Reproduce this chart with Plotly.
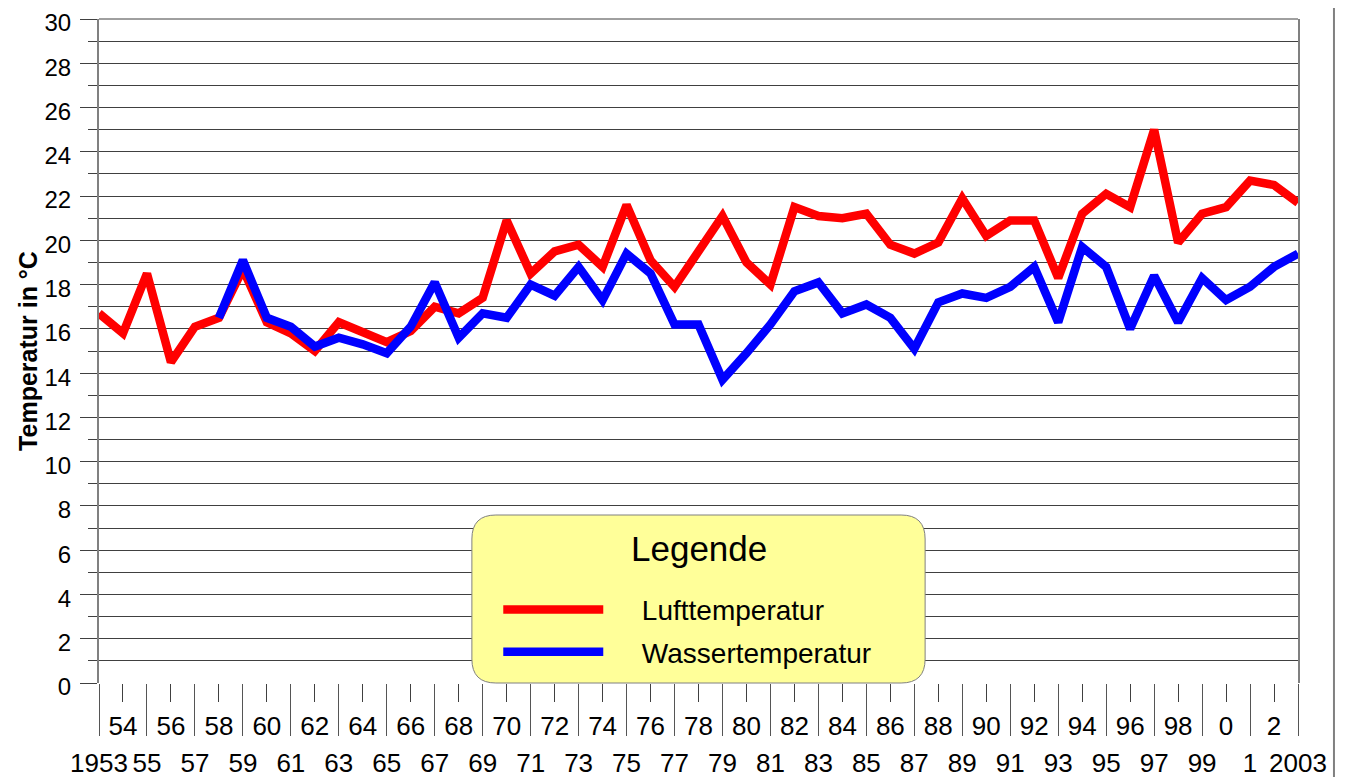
import plotly.graph_objects as go

# Jahre und Messwerte (°C)
years = list(range(1953, 2004))
luft = [16.7, 15.8, 18.5, 14.5, 16.1, 16.5, 18.7, 16.3, 15.8, 15.0,
        16.3, 15.9, 15.4, 15.9, 17.0, 16.7, 17.4, 20.9, 18.5, 19.5,
        19.8, 18.8, 21.6, 19.1, 17.9, 19.5, 21.1, 19.0, 18.0, 21.5,
        21.1, 21.0, 21.2, 19.8, 19.4, 19.9, 21.9, 20.2, 20.9, 20.9,
        18.3, 21.2, 22.1, 21.5, 25.0, 19.9, 21.2, 21.5, 22.7, 22.5, 21.7]
wasser = [None, None, None, None, None,
          16.5, 19.1, 16.5, 16.1, 15.2, 15.6, 15.3, 14.9, 16.1, 18.1,
          15.6, 16.7, 16.5, 18.0, 17.5, 18.8, 17.3, 19.4, 18.5, 16.2,
          16.2, 13.7, 14.9, 16.2, 17.7, 18.1, 16.7, 17.1, 16.5, 15.1,
          17.2, 17.6, 17.4, 17.9, 18.8, 16.3, 19.7, 18.8, 16.0, 18.4,
          16.3, 18.3, 17.3, 17.9, 18.8, 19.4]

# Achsenbeschriftung in zwei Reihen (gerade oben, ungerade unten)
top_years = [y for y in years if y % 2 == 0]
top_labels = [str(y % 100) if y < 2000 else str(y - 2000) for y in top_years]
bottom_years = [y for y in years if y % 2 == 1]
bottom_labels = [str(y % 100) if y < 2000 else str(y - 2000) for y in bottom_years]
bottom_labels[0] = "1953"
bottom_labels[-1] = "2003"

FONT = "Arial, Liberation Sans, sans-serif"
GRID = "#404040"
AXIS = "#808080"
PAD = "\u2002\u2002\u2009"  # Abstand zwischen Linie und Text in der Legende

fig = go.Figure()

fig.add_trace(go.Scatter(
    x=years, y=luft, name=PAD + "Lufttemperatur", mode="lines",
    line=dict(color="#FF0000", width=8.5), legendgroup="a",
))
fig.add_trace(go.Scatter(
    x=years, y=wasser, name=PAD + "Wassertemperatur", mode="lines",
    line=dict(color="#0000FF", width=8.5), legendgroup="b",
))
fig.add_trace(go.Scatter(x=[], y=[], xaxis="x2", showlegend=False, hoverinfo="skip"))

# Legendenhintergrund mit abgerundeten Ecken (Papierkoordinaten)
lx0, lx1, ly0, ly1 = 0.311, 0.689, 0.0, 0.253
rx, ry = 24 / 1199, 24 / 664
path = (f"M{lx0+rx},{ly1} L{lx1-rx},{ly1} Q{lx1},{ly1} {lx1},{ly1-ry} "
        f"L{lx1},{ly0+ry} Q{lx1},{ly0} {lx1-rx},{ly0} "
        f"L{lx0+rx},{ly0} Q{lx0},{ly0} {lx0},{ly0+ry} "
        f"L{lx0},{ly1-ry} Q{lx0},{ly1} {lx0+rx},{ly1} Z")
fig.add_shape(type="path", path=path, xref="paper", yref="paper",
              fillcolor="#FFFF99", line=dict(color="#808080", width=1),
              layer="above")
fig.add_annotation(text="Legende", xref="paper", yref="paper",
                   x=0.5, y=0.202, xanchor="center", yanchor="middle",
                   showarrow=False, font=dict(size=35, family=FONT))
# oberer Abschluss (30 °C) und äußerer Rahmen rechts
fig.add_shape(type="line", xref="paper", yref="paper",
              x0=0, x1=1, y0=1, y1=1, line=dict(color=GRID, width=1))
fig.add_shape(type="line", xref="paper", yref="paper",
              x0=1.03, x1=1.03, y0=-0.2, y1=1.1,
              line=dict(color=AXIS, width=2))

# die Seite hat 8 px Rand, daher etwas kleinere Abbildung
fig.update_layout(
    width=1337, height=769,
    margin=dict(l=91, r=47, t=11, b=94, autoexpand=False),
    paper_bgcolor="white", plot_bgcolor="white",
    font=dict(family=FONT, color="black"),
    showlegend=True,
    legend=dict(
        x=0.333, xanchor="left", y=0.148, yanchor="top",
        bgcolor="rgba(0,0,0,0)", borderwidth=0,
        font=dict(size=28, family=FONT),
        itemwidth=100, traceorder="grouped", tracegroupgap=3,
    ),
    xaxis=dict(
        range=[1953, 2003], tickmode="array", tickvals=top_years, ticktext=top_labels,
        ticks="outside", ticklen=18, tickcolor=GRID, tickwidth=1,
        tickfont=dict(size=26), ticklabelstandoff=2, automargin=False,
        ticklabeloverflow="allow",
        showgrid=False, zeroline=False, showline=False,
    ),
    xaxis2=dict(
        overlaying="x", anchor="y", side="bottom", matches="x",
        range=[1953, 2003], tickmode="array", tickvals=bottom_years, ticktext=bottom_labels,
        ticks="outside", ticklen=52, tickcolor="#555555", tickwidth=1,
        tickfont=dict(size=26), ticklabelstandoff=5, automargin=False,
        ticklabeloverflow="allow",
        showgrid=False, zeroline=False, showline=False,
    ),
    yaxis=dict(
        range=[0, 30], tickmode="linear", tick0=0, dtick=2,
        ticks="outside", ticklen=17, tickcolor=GRID, tickfont=dict(size=24),
        ticklabelstandoff=4, ticklabelshift=4, automargin=False,
        ticklabeloverflow="allow",
        showgrid=True, gridcolor=GRID, gridwidth=1, zeroline=False,
        showline=True, linecolor=AXIS, linewidth=2, mirror=True,
        minor=dict(dtick=1, ticks="outside", ticklen=9, tickcolor=GRID,
                   showgrid=True, gridcolor=GRID, gridwidth=1),
        title=dict(text="<b>Temperatur in °C</b>", font=dict(size=25), standoff=0),
    ),
)

fig.write_html("out.html")
